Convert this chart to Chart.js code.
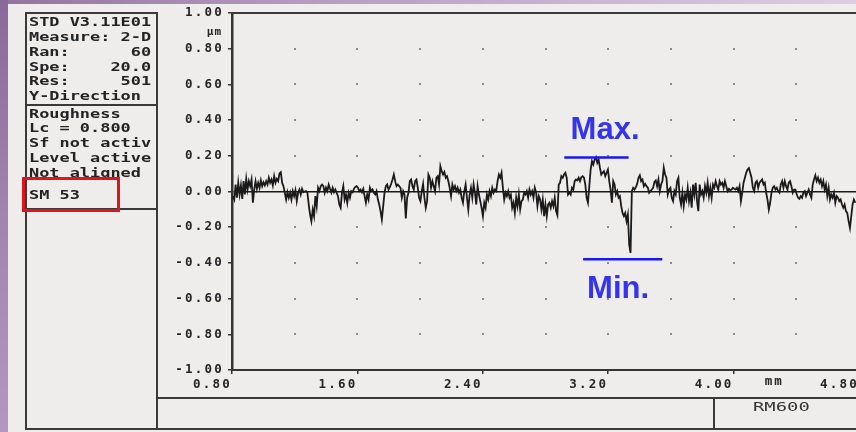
<!DOCTYPE html>
<html>
<head>
<meta charset="utf-8">
<script src="https://cdn.jsdelivr.net/npm/chart.js@4/dist/chart.umd.min.js"></script>
<style>
  html, body { margin: 0; padding: 0; }
  body { width: 856px; height: 432px; overflow: hidden; }
  #stage { position: relative; width: 856px; height: 432px; overflow: hidden;
    background: linear-gradient(90deg, #94729f 0%, #b69ac1 35%, #dccee2 100%); }
  #edge { position: absolute; left: 0; top: 0; width: 8px; height: 432px;
    background: linear-gradient(180deg, #8a699b 0%, #a383b1 50%, #b596c1 100%); }
  #paper { position: absolute; left: 8px; top: 4px; right: 0; bottom: 0; background: #efecec; }
  #plot { position: absolute; left: 0; top: 0; }
  .ln { position: absolute; background: #3a3a3a; }
  .box { position: absolute; box-sizing: border-box; border: 2px solid #3a3a3a; }
  .row { position: absolute; left: 29px; height: 15px; line-height: 15px; white-space: pre;
    font-family: 'DejaVu Sans Mono', monospace; font-weight: bold; font-size: 13px; color: #232323;
    transform: scaleX(1.3); transform-origin: 0 50%; }
  #mark { position: absolute; left: 22px; top: 177px; width: 98px; height: 35px; box-sizing: border-box;
    border: 3px solid #e3131c; }
  #model { position: absolute; left: 753px; top: 399px; line-height: 15px; white-space: pre;
    font-family: 'DejaVu Sans Mono', monospace; font-size: 13px; color: #333;
    transform: scaleX(1.45); transform-origin: 0 50%; }
</style>
</head>
<body>
<div id="stage">
  <div id="edge"></div>
  <div id="paper"></div>
  <canvas id="plot" width="880" height="432"></canvas>

  <!-- printout frame -->
  <div class="box" style="left:25px;top:12px;width:133px;height:418px"></div>
  <div class="ln" style="left:25px;top:104px;width:133px;height:2px"></div>
  <div class="ln" style="left:25px;top:208px;width:133px;height:2px"></div>
  <div class="ln" style="left:231px;top:12px;width:625px;height:2px"></div>
  <div class="ln" style="left:157px;top:397px;width:699px;height:2px"></div>
  <div class="ln" style="left:157px;top:428px;width:699px;height:2px"></div>
  <div class="ln" style="left:713px;top:397px;width:2px;height:32px"></div>

  <!-- measurement settings -->
  <div class="row" style="top:14px">STD V3.11E01</div>
  <div class="row" style="top:29px">Measure: 2-D</div>
  <div class="row" style="top:44px">Ran:      60</div>
  <div class="row" style="top:59px">Spe:    20.0</div>
  <div class="row" style="top:73px">Res:     501</div>
  <div class="row" style="top:88px">Y-Direction</div>
  <div class="row" style="top:106px">Roughness</div>
  <div class="row" style="top:120px">Lc = 0.800</div>
  <div class="row" style="top:135px">Sf not activ</div>
  <div class="row" style="top:150px">Level active</div>
  <div class="row" style="top:165px">Not aligned</div>
  <div class="row" style="top:187px">SM 53</div>
  <div id="mark"></div>
  <div id="model">RM600</div>
</div>

<script>
// Roughness profile heights (µm), sampled along the trace at a fixed step
const profileUm = [
  -0.026,-0.045,0.039,-0.035,0.049,-0.017,0.034,-0.041,
  0.058,-0.017,0.071,0.011,0.058,0.030,0.067,-0.063,0.011,0.058,0.015,0.049,0.021,0.063,0.030,0.052,0.034,0.058,
  0.039,0.077,0.049,0.067,0.034,0.086,0.049,0.071,0.058,0.101,0.108,0.049,0.030,-0.007,-0.045,-0.004,-0.035,-0.007,
  -0.045,0.002,-0.026,0.007,-0.054,-0.007,0.011,-0.017,0.015,-0.004,0,0.002,-0.007,-0.073,-0.129,-0.166,-0.101,-0.138,
  -0.026,-0.082,0.021,0.002,0.030,0.039,0.030,-0.007,0.021,0.002,0.039,0.015,-0.007,0.021,-0.004,0.011,-0.007,-0.026,
  -0.073,-0.091,-0.007,0.030,-0.045,-0.017,-0.063,-0.007,-0.035,0.002,-0.004,0.015,0.026,0.030,0.021,0.002,0.011,-0.004,
  0.015,-0.026,-0.063,-0.017,-0.045,0.021,0.002,0.011,-0.007,-0.017,0.002,-0.045,-0.073,-0.110,-0.157,-0.082,-0.007,0.030,
  0.039,0.011,

  0.024,0.043,0.067,0.095,0.058,0.030,0.039,0.030,0.021,-0.035,0.002,-0.017,-0.151,-0.035,-0.007,0.058,0.067,0.030,
  0.011,0.058,0.067,0.021,-0.035,-0.054,0.002,0.043,-0.035,-0.091,-0.054,0.095,0.077,0.021,0.058,0.030,0.002,0.077,
  0.086,0.039,0.142,0.114,0.095,0.110,0.077,0.086,0.058,0.021,-0.026,0.039,0.011,0.030,0.002,0.021,-0.007,0.011,
  -0.035,-0.063,0.002,0.039,-0.035,-0.101,-0.017,0.021,-0.035,0.039,-0.007,-0.073,0.030,-0.017,-0.054,-0.091,-0.138,
  -0.063,-0.091,-0.017,-0.045,0.002,-0.026,0.021,-0.007,0.011,0.002,0.058,0.095,0.077,0.105,0.021,-0.045,-0.007,
  -0.026,0.002,-0.035,-0.017,-0.091,-0.063,-0.120,-0.035,-0.082,-0.017,-0.101,-0.054,-0.045,-0.007,-0.017,0.002,
  -0.035,0.011,-0.017,0.002,-0.035,0.021,-0.007,-0.082,-0.026,-0.045,-0.101,-0.045,-0.138,-0.073,

  -0.138,-0.073,-0.063,-0.091,-0.054,-0.082,-0.035,-0.110,-0.133,0.039,0.049,0.086,0.077,0.095,0.105,0.077,-0.017,
  -0.007,-0.017,0.021,0.011,0.058,0.067,0.062,0.077,0.058,0.080,0.086,0.077,0.039,-0.035,-0.063,0.030,0.123,0.170,
  0.151,0.179,0.192,0.161,0.179,0.133,0.095,0.105,0.114,0.086,0.105,0.123,0.058,0.011,-0.063,0.058,0.039,-0.017,
  0.002,-0.035,-0.026,-0.082,-0.120,-0.138,-0.120,-0.166,-0.129,-0.297,-0.344,0.002,0.021,0.011,0.024,0.043,0.077,
  0.091,0.058,0.067,0.030,0.043,0.030,0.021,-0.007,0.002,0.011,0.021,0.054,0.062,0.030,0.067,0.002,0.039,0.058,
  0.133,0.095,0.077,-0.017,0.011,0.021,-0.035,-0.054,0.002,-0.017,0.058,0.077,-0.035,-0.073,-0.007,-0.082,-0.017,
  -0.045,0.021,-0.054,-0.007,-0.091,0.039,-0.017,0.049,-0.054,-0.110,0.039,-0.017,0.002,

  -0.035,0.030,-0.007,0.049,-0.026,0.021,-0.035,0.039,0.021,0.058,0.030,0.011,0.058,0.039,0.049,0.021,0.058,0.030,
  0.002,0.015,0.007,0.011,0.021,0.015,0.011,0.021,0.002,0.030,-0.054,-0.007,0.049,0.077,0.105,0.123,0.131,0.105,
  0.077,0.021,0.002,0.049,0.058,0.021,0.049,0.058,0.067,0.039,0.049,-0.007,-0.045,-0.101,-0.063,-0.007,0.021,0.030,
  0.011,0.021,0.002,-0.007,0.039,0.058,0.021,0.058,0.030,0.011,0.049,0.058,0.030,-0.007,0.011,0.011,-0.017,-0.035,
  -0.041,-0.026,-0.035,-0.007,0.002,-0.026,-0.007,0.011,-0.017,-0.035,0.039,0.067,0.090,0.058,0.077,0.049,0.067,
  0.030,0.058,0.011,0.039,-0.026,0.021,-0.045,-0.017,-0.035,-0.007,-0.063,-0.026,-0.035,-0.054,-0.045,-0.073,-0.091,
  -0.073,-0.110,-0.120,-0.166,-0.204,-0.138,-0.073,-0.045,-0.063
];
const startMm = 0.806;   // first sample position
const stepMm = 0.008483; // sampling pitch

const xTickMm = [0.8, 1.6, 2.4, 3.2, 4.0, 4.8];
const yTickUm = [-1.0, -0.8, -0.6, -0.4, -0.2, 0.0, 0.2, 0.4, 0.6, 0.8, 1.0];
const dotGridMm = [1.2, 1.6, 2.0, 2.4, 2.8, 3.2, 3.6, 4.0, 4.4];
const dotGridUm = [-0.8, -0.6, -0.4, -0.2, 0.2, 0.4, 0.6, 0.8];

const peakMarks = [
  { text: 'Max.', fromMm: 2.92, toMm: 3.33, levelUm: 0.19, textMm: 3.18, textUm: 0.34 },
  { text: 'Min.', fromMm: 3.04, toMm: 3.545, levelUm: -0.38, textMm: 3.263, textUm: -0.55 }
];

const INK = '#252525';
Chart.defaults.font.family = "'DejaVu Sans Mono', monospace";

// Printer-style wide lettering for axis text
const printerSpacing = {
  id: 'printerSpacing',
  beforeDraw(chart) { chart.ctx.letterSpacing = '2.2px'; },
  afterDraw(chart) { chart.ctx.letterSpacing = '0px'; }
};

// Dotted reference grid + unit labels
const dotGrid = {
  id: 'dotGrid',
  beforeDatasetsDraw(chart) {
    const { ctx, scales: { x, y } } = chart;
    ctx.save();
    ctx.fillStyle = '#8c8a8a';
    dotGridMm.forEach(mx => dotGridUm.forEach(my => {
      ctx.fillRect(Math.round(x.getPixelForValue(mx)) - 1, Math.round(y.getPixelForValue(my)) - 1, 2, 2);
    }));
    ctx.restore();
  },
  afterDatasetsDraw(chart) {
    const { ctx, scales: { x, y } } = chart;
    ctx.save();
    ctx.letterSpacing = '1px';
    ctx.fillStyle = INK;
    ctx.font = "bold 11px 'DejaVu Sans Mono', monospace";
    ctx.textAlign = 'right';
    ctx.textBaseline = 'middle';
    ctx.fillText('µm', y.right - 10, y.getPixelForValue(0.895));
    ctx.letterSpacing = '2.2px';
    ctx.font = "bold 12.5px 'DejaVu Sans Mono', monospace";
    ctx.textAlign = 'center';
    ctx.fillText('mm', x.getPixelForValue(4.26), x.top + 12);
    ctx.restore();
  }
};

// Max / Min call-outs
const peakNotes = {
  id: 'peakNotes',
  afterDraw(chart) {
    const { ctx, scales: { x, y } } = chart;
    ctx.save();
    ctx.letterSpacing = '0px';
    peakMarks.forEach(m => {
      const yy = y.getPixelForValue(m.levelUm);
      ctx.strokeStyle = '#1818f5';
      ctx.lineWidth = 2.5;
      ctx.beginPath();
      ctx.moveTo(x.getPixelForValue(m.fromMm), yy);
      ctx.lineTo(x.getPixelForValue(m.toMm), yy);
      ctx.stroke();
      ctx.fillStyle = '#3434f0';
      ctx.font = "bold 31px 'Liberation Sans', Arial, sans-serif";
      ctx.textAlign = 'center';
      ctx.textBaseline = 'middle';
      ctx.fillText(m.text, x.getPixelForValue(m.textMm), y.getPixelForValue(m.textUm));
    });
    ctx.restore();
  }
};

new Chart(document.getElementById('plot'), {
  type: 'line',
  data: {
    datasets: [{
      data: profileUm.map((v, i) => ({ x: startMm + i * stepMm, y: v })),
      borderColor: '#1a1a1a',
      borderWidth: 1.8,
      pointRadius: 0,
      tension: 0,
      fill: false
    }]
  },
  options: {
    responsive: false,
    animation: false,
    events: [],
    layout: { padding: { top: 13, right: 21, left: 0, bottom: 0 } },
    plugins: { legend: { display: false }, tooltip: { enabled: false } },
    scales: {
      x: {
        type: 'linear', min: 0.8, max: 4.8,
        afterFit(s) { s.height = 62; },
        afterBuildTicks(s) { s.ticks = xTickMm.map(v => ({ value: v })); },
        ticks: {
          autoSkip: false, maxRotation: 0, align: 'end', padding: 3, color: INK,
          font: { size: 12.5, weight: 'bold' },
          callback: v => Number(v).toFixed(2)
        },
        grid: { drawOnChartArea: false, tickLength: 4, tickColor: '#333', lineWidth: 1.5 },
        border: { color: '#333', width: 2 }
      },
      y: {
        type: 'linear', min: -1, max: 1,
        afterFit(s) { s.width = 232; },
        afterBuildTicks(s) { s.ticks = yTickUm.map(v => ({ value: v })); },
        ticks: {
          padding: 4, color: INK,
          font: { size: 12.5, weight: 'bold' },
          callback: v => Number(v).toFixed(2)
        },
        grid: {
          color: c => (c.tick && Math.abs(c.tick.value) < 1e-9) ? '#1a1a1a' : 'rgba(0,0,0,0)',
          lineWidth: 1.5, tickColor: '#333', tickLength: 4
        },
        border: { color: '#333', width: 2.5 }
      }
    }
  },
  plugins: [printerSpacing, dotGrid, peakNotes]
});
</script>
</body>
</html>
